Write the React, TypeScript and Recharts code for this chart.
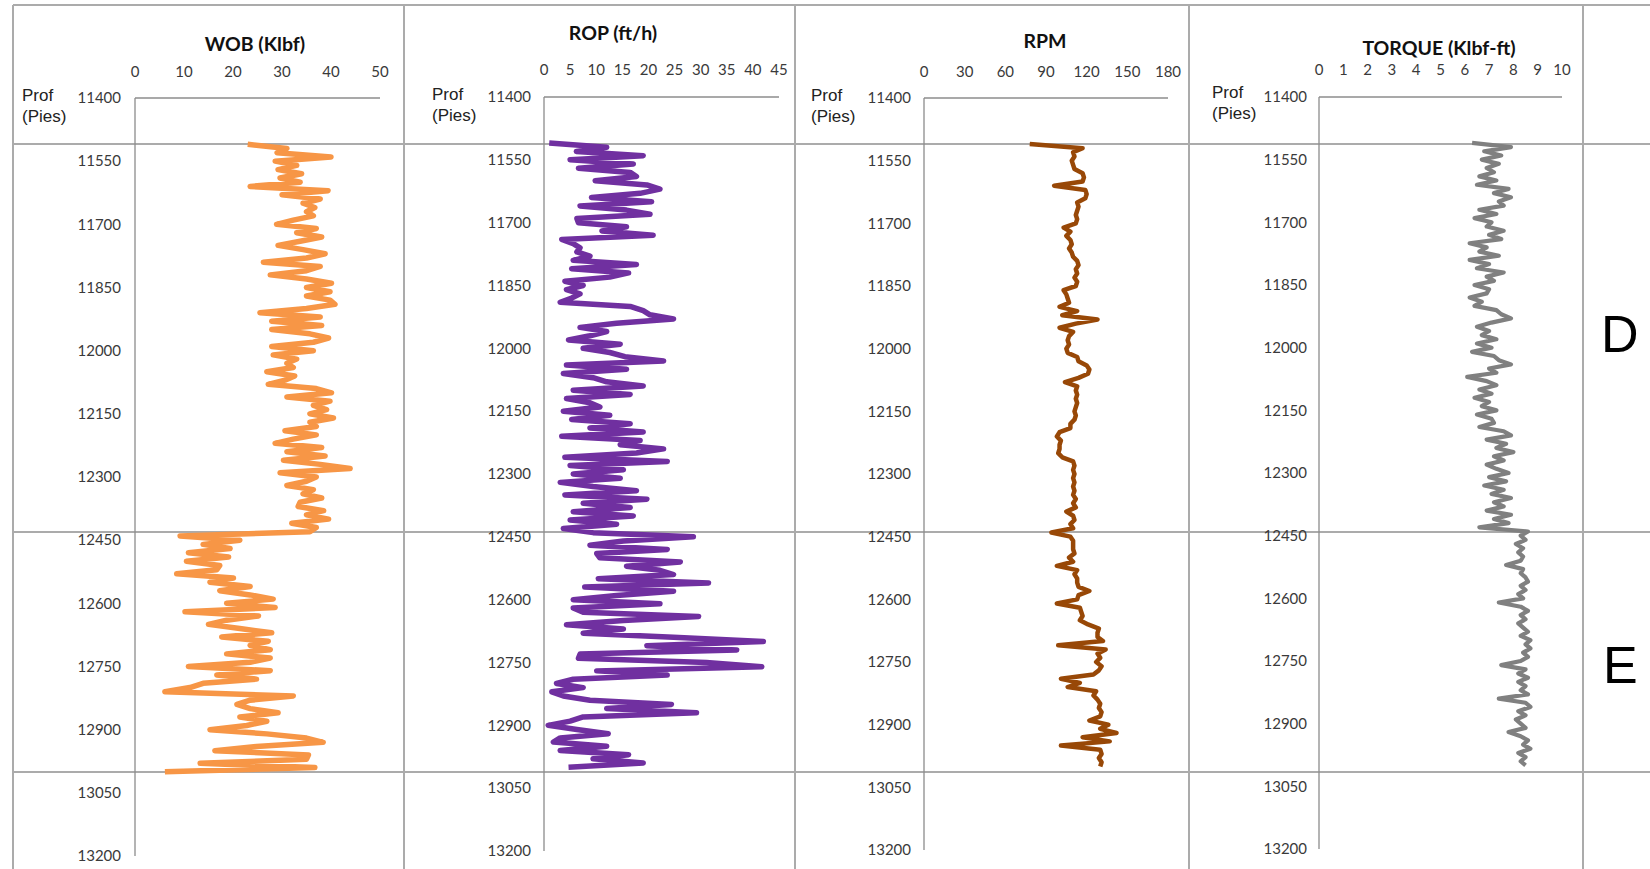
import React from "react";
import { LineChart, Line, XAxis, YAxis } from "recharts";

// depth samples every 10 ft starting at 11510 ft
const startDepth = 11510;
const depthStep = 10;

const depthTicks = [11400, 11550, 11700, 11850, 12000, 12150, 12300, 12450, 12600, 12750, 12900, 13050, 13200];
const wobTicks = [0, 10, 20, 30, 40, 50];
const ropTicks = [0, 5, 10, 15, 20, 25, 30, 35, 40, 45];
const rpmTicks = [0, 30, 60, 90, 120, 150, 180];
const torqueTicks = [0, 1, 2, 3, 4, 5, 6, 7, 8, 9, 10];

const wob = [
  23, 31, 29, 40, 28.6, 33, 29.2, 34, 29.6, 33.7,
  23.5, 39.4, 30, 37.8, 34.3, 36.7, 35, 36.4, 32.3, 28.9,
  37, 33, 38.1, 33.7, 29.2, 34.3, 38.8, 35, 26.2, 37.8,
  35, 27.6, 35, 40.1, 35, 39.8, 35, 39.8, 40.8, 35,
  25.5, 37.8, 27.9, 38.1, 27.9, 35.7, 39.5, 36.4, 27.9, 36.4,
  28.2, 33, 31, 32.3, 26.9, 32.6, 30.6, 27.2, 37, 40.1,
  31, 39.8, 36.4, 39.1, 35.7, 40.5, 35.7, 37, 30.6, 37,
  32.3, 28.6, 38.1, 31, 38.8, 30.3, 37.8, 43.9, 29.6, 37,
  35, 31, 36.4, 34.3, 38.1, 33.7, 33.3, 38.5, 35, 39.5,
  32, 37, 35.7,
  9.2, 21.4, 13.9, 19.4, 10.9, 19.1, 10.5, 17.3, 16.7, 8.5,
  20.1, 15.3, 23.5, 17.3, 23.5, 28.2, 18.7, 28.6, 10.2, 25.2,
  18.7, 15, 21.4, 27.9, 17.7, 27.2, 23.5, 27.6, 18.7, 27.6,
  23.5, 10.9, 27.6, 16.7, 24.8, 13.9, 11.2, 6.1, 32.3, 23.5,
  20.8, 23.5, 29.2, 21.4, 26.9, 22.8, 15.3, 26.9, 35, 38.4,
  24.8, 16.3, 35.4, 35, 13.3, 36.7, 6.1,
];

const rop = [
  1, 12, 6.2, 19, 5, 17.1, 6.6, 16.5, 17.7, 9.8,
  19.7, 22.2, 18.4, 9.1, 20.6, 6.9, 15.8, 20.3, 6.3, 6.6,
  15.8, 11.1, 20.9, 3.4, 5.6, 6.9, 6.3, 8.8, 5.6, 17.7,
  5.3, 16.2, 12.6, 4, 7.5, 4.3, 6.9, 5.3, 3.1, 16.5,
  19, 20.3, 24.8, 13.9, 6.9, 12, 8.8, 4.7, 14.6, 7.5,
  12.6, 15.5, 22.9, 4.3, 15.8, 3.7, 9.4, 12, 19, 5.6,
  16.5, 4.3, 8.8, 10.7, 3.7, 12.6, 5.3, 16.5, 8.8, 19,
  3.4, 18.4, 14.6, 22.9, 17.7, 4, 23.6, 5, 15.2, 5.6,
  14.6, 3.1, 9.4, 17.7, 4, 19.7, 7.5, 16.5, 5.6, 17.1,
  5, 13.9, 3.7,
  9.4, 28.6, 15.2, 8.8, 23.6, 10.1, 10.7, 26.1, 15.8, 22.2,
  24.8, 10.4, 31.5, 7.8, 24.8, 13.9, 5.6, 22.2, 5.6, 7.5,
  29.6, 15.2, 4.3, 15.2, 7.5, 24.8, 42, 19.7, 36.9, 6.9,
  6.6, 31.1, 41.7, 10.1, 23.6, 5.6, 2.4, 7.5, 1.5, 3.7,
  8.8, 24.4, 12, 29.2, 7.5, 5, 0.8, 6.3, 12.3, 3.1,
  1.8, 12, 3.1, 16.2, 9.4, 19, 4.7,
];

const rpm = [
  78, 117, 110, 111, 109, 110, 111, 117, 118, 117,
  96, 119, 120, 119, 113, 114, 113, 112, 113, 112,
  103, 108, 105, 108, 109, 107, 109, 110, 113, 114,
  112, 113, 111, 113, 112, 103, 105, 106, 107, 100,
  113, 102, 128, 112, 100, 110, 107, 106, 107, 105,
  106, 113, 114, 120, 122, 121, 114, 104, 113, 112,
  113, 112, 113, 112, 111, 112, 111, 108, 108, 100,
  98, 101, 100, 100, 99, 102, 110, 111, 110, 111,
  110, 111, 110, 111, 110, 112, 110, 112, 105, 110,
  111, 108, 110,
  94, 108, 110, 110, 110, 111, 107, 110, 98, 113,
  111, 113, 113, 114, 122, 114, 113, 98, 115, 116,
  117, 115, 121, 129, 128, 128, 132, 99, 134, 128,
  130, 127, 131, 129, 125, 101, 115, 106, 127, 125,
  128, 130, 129, 131, 130, 122, 136, 130, 142, 117,
  137, 101, 130, 131, 129, 131, 130,
];

const torque = [
  6.3, 7.9, 6.8, 7.5, 6.7, 7.4, 6.9, 7.2, 6.6, 7.3,
  6.5, 7.8, 7.2, 7.9, 7.4, 7.6, 6.6, 7.3, 6.4, 7.1,
  6.9, 7.6, 7.0, 7.5, 6.2, 6.9, 6.6, 7.4, 6.2, 7.0,
  6.5, 7.6, 6.9, 7.2, 6.4, 7.0, 6.9, 6.2, 6.7, 6.4,
  7.3, 7.5, 7.9, 7.1, 6.5, 7.0, 6.7, 7.3, 6.5, 7.1,
  6.3, 7.2, 7.4, 7.9, 7.0, 7.3, 6.1, 6.9, 7.3, 6.6,
  7.1, 6.4, 7.0, 6.7, 7.3, 6.5, 7.1, 7.2, 6.6, 7.6,
  7.9, 6.9, 7.7, 7.3, 8.0, 7.2, 7.6, 6.9, 7.3, 7.8,
  7.0, 7.7, 6.8, 7.6, 7.1, 7.9, 7.2, 7.6, 6.9, 7.9,
  7.2, 7.8, 6.6,
  8.6, 8.3, 8.5, 8.1, 8.4, 8.2, 8.4, 8.3, 7.7, 8.4,
  8.3, 8.5, 8.6, 8.3, 8.5, 8.2, 8.4, 7.4, 8.3, 8.6,
  8.3, 8.5, 8.2, 8.4, 8.6, 8.3, 8.7, 8.5, 8.7, 8.4,
  8.6, 8.3, 7.5, 8.5, 8.2, 8.6, 8.2, 8.5, 8.3, 8.6,
  7.4, 8.5, 8.7, 8.2, 8.5, 8.1, 8.3, 8.5, 7.8, 8.3,
  8.6, 8.4, 8.7, 8.2, 8.5, 8.3, 8.5,
];

const W = 1650;
const H = 869;
const gridGray = "#ABABAB";
const axisGray = "#8C8C8C";
const tickColor = "#3A3A3A";

type TrackDef = {
  title: string;
  values: number[];
  ticks: number[];
  color: string;
  sw: number;
  plotLeft: number;
  plotRight: number;
  plotTop: number;
  plotBottom: number;
  labelRight: number;
  tickBase: number;
  titleX: number;
  titleY: number;
  profX: number;
  profY: number;
};

const tracks: TrackDef[] = [
  { title: "WOB (Klbf)", values: wob, ticks: wobTicks, color: "#F79646", sw: 5.5,
    plotLeft: 135, plotRight: 380, plotTop: 98, plotBottom: 856, labelRight: 121, tickBase: 77,
    titleX: 255, titleY: 51, profX: 22, profY: 101 },
  { title: "ROP (ft/h)", values: rop, ticks: ropTicks, color: "#7030A0", sw: 5.5,
    plotLeft: 544, plotRight: 779, plotTop: 97, plotBottom: 851, labelRight: 531, tickBase: 75,
    titleX: 613, titleY: 40, profX: 432, profY: 100 },
  { title: "RPM", values: rpm, ticks: rpmTicks, color: "#984807", sw: 4.5,
    plotLeft: 924, plotRight: 1168, plotTop: 98, plotBottom: 850, labelRight: 911, tickBase: 77,
    titleX: 1045, titleY: 48, profX: 811, profY: 101 },
  { title: "TORQUE (Klbf-ft)", values: torque, ticks: torqueTicks, color: "#808080", sw: 4.2,
    plotLeft: 1319, plotRight: 1562, plotTop: 97, plotBottom: 849, labelRight: 1307, tickBase: 75,
    titleX: 1439, titleY: 55, profX: 1212, profY: 98 },
];

const colLines = [13, 404, 795, 1189, 1583];
const rowLines = [144, 532, 772];

const toRows = (vals: number[]) =>
  vals.map((v, i) => ({ depth: startDepth + i * depthStep, v }));

function LogTrack({ t }: { t: TrackDef }) {
  const yAxisW = 80;
  const xAxisH = 40;
  const x0 = t.plotLeft - yAxisW;
  const rightPad = 14;
  const width = t.plotRight + rightPad - x0;
  const max = t.ticks[t.ticks.length - 1];
  return (
    <div style={{ position: "absolute", left: x0, top: 0 }}>
      <LineChart
        layout="vertical"
        width={width}
        height={H}
        data={toRows(t.values)}
        margin={{ top: t.plotTop - xAxisH, right: rightPad, bottom: H - t.plotBottom, left: 0 }}
        style={{ fontFamily: "Lato" }}
      >
        <XAxis
          type="number"
          orientation="top"
          domain={[0, max]}
          ticks={t.ticks}
          interval={0}
          height={xAxisH}
          allowDataOverflow
          axisLine={{ stroke: axisGray, strokeWidth: 1.3 }}
          tickLine={false}
          tickSize={0}
          tickMargin={t.plotTop - t.tickBase}
          tick={{ fill: tickColor, fontSize: 15, fontFamily: "Lato" }}
        />
        <YAxis
          type="number"
          dataKey="depth"
          domain={[11400, 13200]}
          ticks={depthTicks}
          interval={0}
          width={yAxisW}
          allowDataOverflow
          axisLine={{ stroke: axisGray, strokeWidth: 1.3 }}
          tickLine={false}
          tickSize={0}
          tickMargin={t.plotLeft - t.labelRight}
          tick={{ fill: tickColor, fontSize: 15, fontFamily: "Lato" }}
        />
        <Line
          type="linear"
          dataKey="v"
          stroke={t.color}
          strokeWidth={t.sw}
          strokeLinejoin="round"
          dot={false}
          isAnimationActive={false}
        />
      </LineChart>
    </div>
  );
}

export default function App() {
  return (
    <div
      style={{
        position: "absolute",
        left: 0,
        top: 0,
        width: W,
        height: H,
        overflow: "hidden",
        background: "#fff",
      }}
    >
      <svg width={W} height={H} style={{ position: "absolute", left: 0, top: 0 }}>
        <line x1={13} y1={5} x2={W} y2={5} stroke={gridGray} strokeWidth={2} />
        {colLines.map((x) => (
          <line key={"c" + x} x1={x} y1={5} x2={x} y2={H} stroke={gridGray} strokeWidth={2} />
        ))}
        {rowLines.map((y) => (
          <line key={"r" + y} x1={13} y1={y} x2={W} y2={y} stroke={gridGray} strokeWidth={2} />
        ))}
        {tracks.map((t) => (
          <g key={t.title}>
            <text x={t.titleX} y={t.titleY} textAnchor="middle" fontFamily="Lato" fontWeight={700} fontSize={19.5} fill="#111">
              {t.title}
            </text>
            <text x={t.profX} y={t.profY} fontFamily="Liberation Sans" fontSize={17} fill="#222">
              Prof
            </text>
            <text x={t.profX} y={t.profY + 21} fontFamily="Liberation Sans" fontSize={17} fill="#222">
              (Pies)
            </text>
          </g>
        ))}
        <text x={1601} y={352} fontFamily="Liberation Sans" fontSize={52} fill="#000">D</text>
        <text x={1603} y={683} fontFamily="Liberation Sans" fontSize={52} fill="#000">E</text>
      </svg>
      {tracks.map((t) => (
        <LogTrack key={t.title} t={t} />
      ))}
    </div>
  );
}
